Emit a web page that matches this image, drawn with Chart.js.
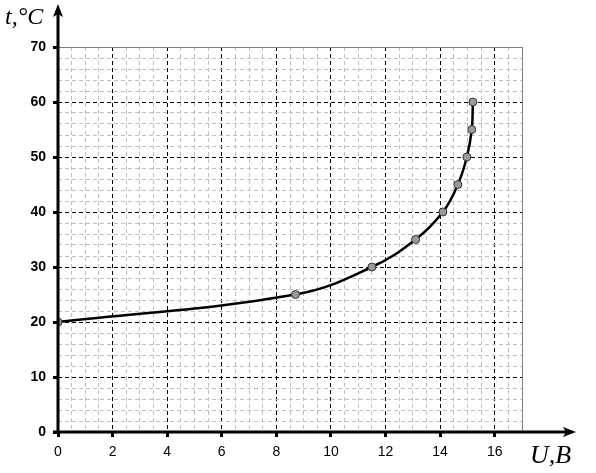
<!DOCTYPE html>
<html><head><meta charset="utf-8">
<script src="https://cdn.jsdelivr.net/npm/chart.js@4"></script>
<style>html,body{margin:0;padding:0;background:#fff}#wrap{width:596px;height:473px;position:relative}</style>
</head><body><div id="wrap"><canvas id="c"></canvas></div>
<script>
const voltage = [0, 8.7, 11.5, 13.1, 14.1, 14.65, 14.98, 15.16, 15.2];
const temperature = [20, 25, 30, 35, 40, 45, 50, 55, 60];
const xTickLabels = ['0','2','4','6','8','10','12','14','16'];
const yTickLabels = ['0','10','20','30','40','50','60','70'];
const xTitle = 'U,B';
const yTitle = 't,°C';
const X_MAX = 17, Y_MAX = 70;

const points = voltage.map((v, i) => ({x: v, y: temperature[i]}));

const isXLabel = v => xTickLabels.includes(String(v));
const isYLabel = v => yTickLabels.includes(String(v));

const axesPlugin = {
  id: 'axesPlugin',
  beforeDatasetsDraw(chart) {
    const {ctx, chartArea: a} = chart;
    ctx.save();
    ctx.strokeStyle = '#808080';
    ctx.lineWidth = 1;
    ctx.beginPath();
    ctx.moveTo(a.left, a.top + 0.5); ctx.lineTo(a.right + 0.5, a.top + 0.5);
    ctx.moveTo(a.right + 0.5, a.top); ctx.lineTo(a.right + 0.5, a.bottom);
    ctx.stroke();
    ctx.restore();
  },
  afterDraw(chart) {
    const {ctx, chartArea: a} = chart;
    ctx.save();
    ctx.fillStyle = '#000';
    ctx.strokeStyle = '#000';
    ctx.lineWidth = 3;
    const x0 = a.left, y0 = a.bottom;
    // y axis
    ctx.beginPath(); ctx.moveTo(x0, y0 + 1); ctx.lineTo(x0, 12); ctx.stroke();
    ctx.beginPath();
    ctx.moveTo(x0, 4); ctx.lineTo(x0 + 5, 17); ctx.lineTo(x0, 14); ctx.lineTo(x0 - 5, 17); ctx.closePath(); ctx.fill();
    // x axis
    ctx.beginPath(); ctx.moveTo(x0 - 5, y0); ctx.lineTo(568, y0); ctx.stroke();
    ctx.beginPath();
    ctx.moveTo(576, y0); ctx.lineTo(563, y0 - 5); ctx.lineTo(566, y0); ctx.lineTo(563, y0 + 5); ctx.closePath(); ctx.fill();
    // titles
    ctx.font = 'italic 24px "Liberation Serif", "Times New Roman", serif';
    ctx.textBaseline = 'alphabetic';
    ctx.textAlign = 'left';
    ctx.fillText(yTitle, 5, 24);
    ctx.font = 'italic 26px "Liberation Serif", "Times New Roman", serif';
    ctx.fillText(xTitle, 530, 463);
    ctx.restore();
  }
};

new Chart(document.getElementById('c'), {
  type: 'scatter',
  data: {
    datasets: [{
      data: points,
      showLine: true,
      tension: 0.4,
      borderColor: '#000',
      borderWidth: 2.5,
      pointRadius: 4,
      pointBackgroundColor: '#9a9a9a',
      pointBorderColor: '#333',
      pointBorderWidth: 1
    }]
  },
  options: {
    responsive: true,
    maintainAspectRatio: false,
    animation: false,
    layout: {padding: {top: 47, right: 74, left: 0, bottom: 0}},
    plugins: {legend: {display: false}, tooltip: {enabled: false}},
    scales: {
      x: {
        type: 'linear', min: 0, max: X_MAX,
        afterFit: s => { s.height = 41; },
        ticks: {
          stepSize: 0.5, autoSkip: false, maxRotation: 0, padding: 7,
          color: '#000',
          font: {family: 'Arial, "Liberation Sans", sans-serif', size: 14},
          callback: v => isXLabel(v) ? String(v) : ''
        },
        grid: {
          color: c => {
            const v = c.tick ? c.tick.value : null;
            if (v === 0 || v === X_MAX) return 'rgba(0,0,0,0)';
            return (v % 2 === 0) ? '#000' : '#c0c0c0';
          },
          lineWidth: 1,
          tickLength: 5,
          tickWidth: 3,
          tickColor: c => (c.tick && isXLabel(c.tick.value)) ? '#000' : 'rgba(0,0,0,0)'
        },
        border: {display: false, dash: [4, 3]}
      },
      y: {
        type: 'linear', min: 0, max: Y_MAX,
        afterFit: s => { s.width = 58; },
        ticks: {
          stepSize: 2, autoSkip: false, padding: 7,
          color: '#000',
          font: {family: 'Arial, "Liberation Sans", sans-serif', size: 14, weight: 'bold'},
          callback: v => isYLabel(v) ? String(v) : ''
        },
        grid: {
          color: c => {
            const v = c.tick ? c.tick.value : null;
            if (v === 0 || v === Y_MAX) return 'rgba(0,0,0,0)';
            return (v % 10 === 0) ? '#000' : '#c0c0c0';
          },
          lineWidth: 1,
          tickLength: 5,
          tickWidth: 3,
          tickColor: c => (c.tick && isYLabel(c.tick.value)) ? '#000' : 'rgba(0,0,0,0)'
        },
        border: {display: false, dash: [4, 3]}
      }
    }
  },
  plugins: [axesPlugin]
});
</script>
</body></html>
